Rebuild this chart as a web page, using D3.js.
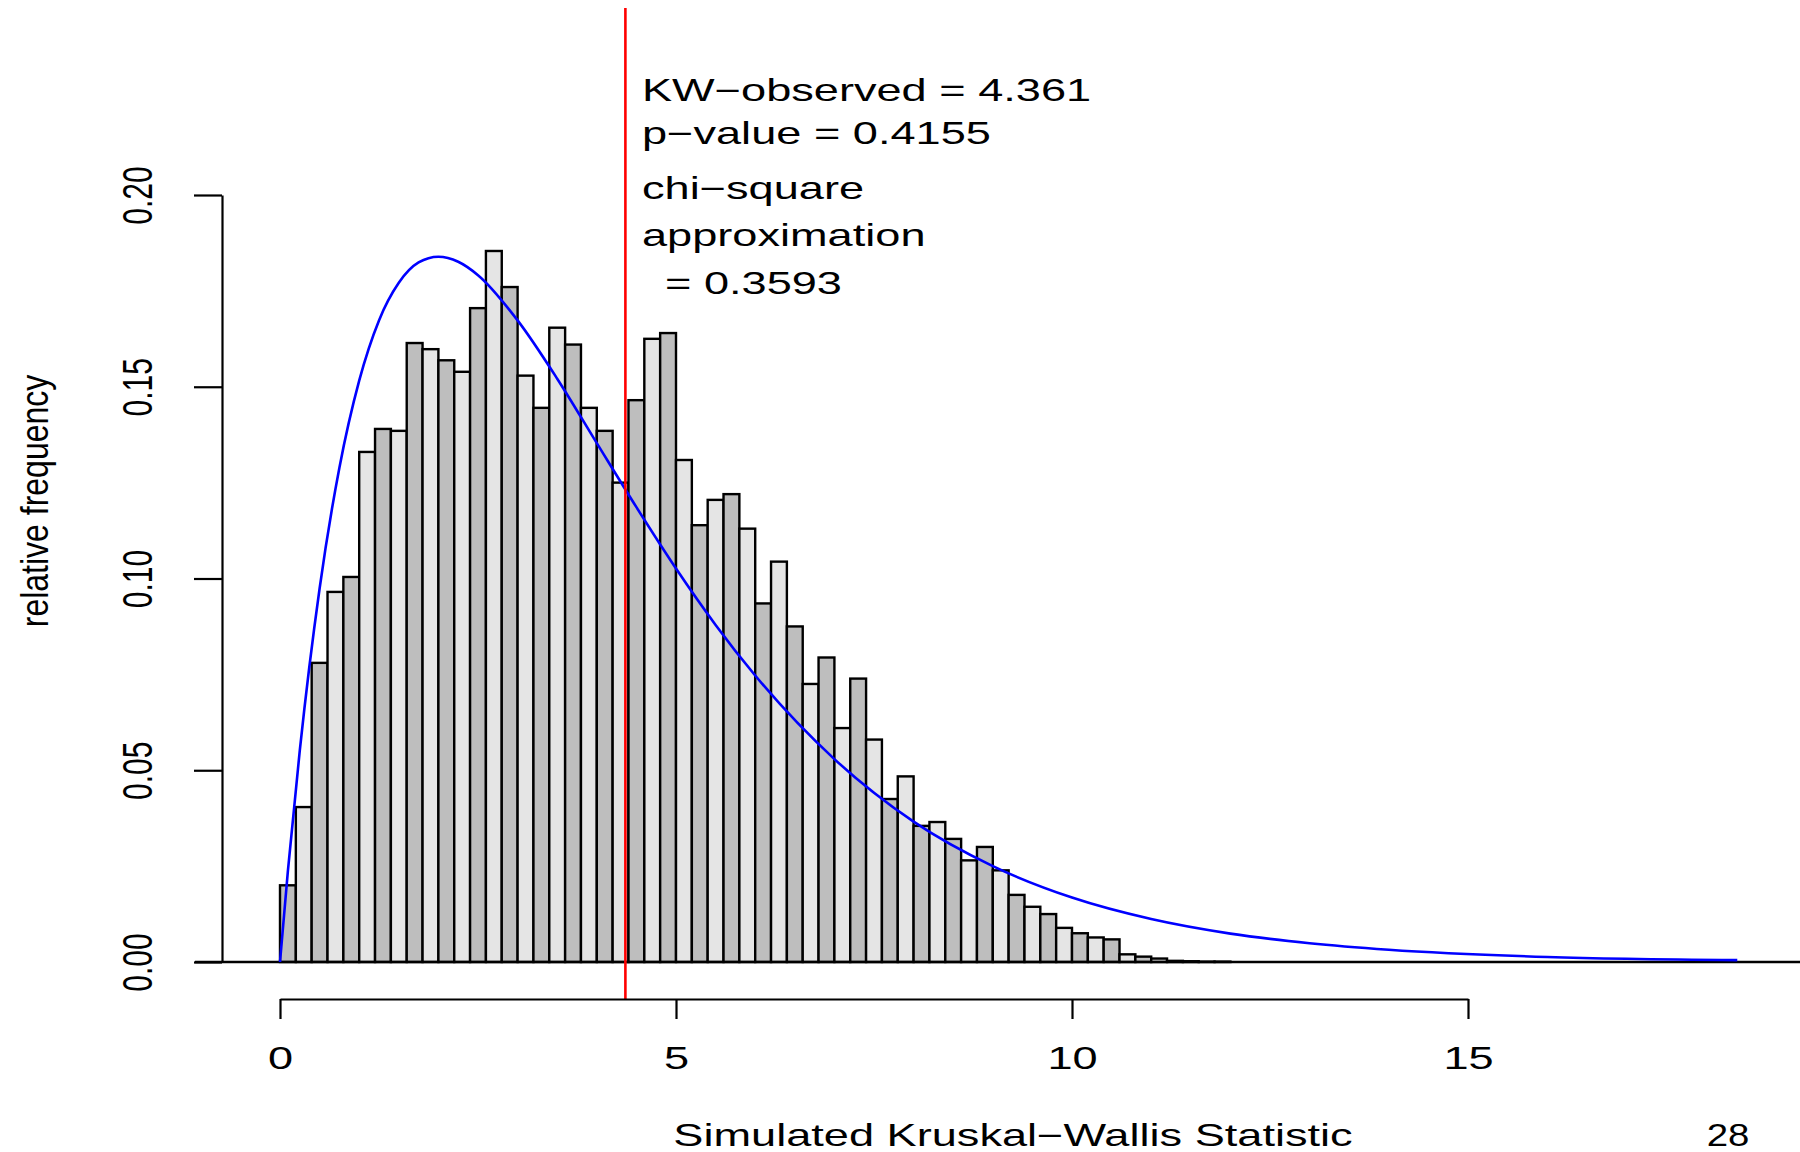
<!DOCTYPE html>
<html>
<head>
<meta charset="utf-8">
<script src="https://cdn.jsdelivr.net/npm/d3@7"></script>
<style>
  body { margin: 0; background: #fff; }
  text { font-family: "Liberation Sans", Arial, Helvetica, sans-serif; fill: #000; }
</style>
</head>
<body>
<div id="main"></div>
<script>

// bin left edges (width 0.2) and relative frequency
const binLeft = [0,0.2,0.4,0.6,0.8,1,1.2,1.4,1.6,1.8,2,2.2,2.4,2.6,2.8,3,3.2,3.4,3.6,3.8,
    4,4.2,4.4,4.6,4.8,5,5.2,5.4,5.6,5.8,6,6.2,6.4,6.6,6.8,7,7.2,7.4,7.6,7.8,
    8,8.2,8.4,8.6,8.8,9,9.2,9.4,9.6,9.8,10,10.2,10.4,10.6,10.8,11,11.2,11.4,11.6,11.8];
const binWidth = 0.2;
const relFreq = [0.0200,0.0404,0.0780,0.0965,0.1004,0.1330,0.1390,0.1385,0.1614,0.1598,
    0.1569,0.1539,0.1705,0.1854,0.1760,0.1529,0.1445,0.1654,0.1610,0.1445,
    0.1385,0.1250,0.1465,0.1625,0.1640,0.1309,0.1139,0.1205,0.1220,0.1130,
    0.0935,0.1044,0.0875,0.0725,0.0794,0.0610,0.0739,0.0580,0.0425,0.0484,
    0.0355,0.0365,0.0321,0.0265,0.0300,0.0239,0.0175,0.0144,0.0125,0.0089,
    0.0075,0.0064,0.0059,0.0020,0.0014,0.0009,0.0003,0.0002,0.0001,0.0001];

// chi-square approximation curve
const curveX = [0,0.1,0.25,0.5,0.75,1,1.25,1.5,1.75,2,2.25,2.5,3,3.5,4,4.5,5,5.5,6,7,8,9,10,11,12,13,14,16,18.4];
const curveY = [0,0.0238,0.0552,0.0974,0.1289,0.1516,0.1673,0.1771,0.1824,0.1839,0.1826,0.1791,
    0.1673,0.1521,0.1353,0.1186,0.1026,0.0879,0.0747,0.0529,0.0366,0.0250,0.0168,0.0112,
    0.0074,0.0049,0.0032,0.0013,0.0005];

const kwObserved = 4.361;
const xTicks = [0,5,10,15];
const yTicks = [0,0.05,0.10,0.15,0.20];
const statLines = ["KW\u2212observed = 4.361", "p\u2212value = 0.4155"];
const chiLines = ["chi\u2212square", "approximation", "= 0.3593"];
const xLabel = "Simulated Kruskal\u2212Wallis Statistic";
const yLabel = "relative frequency";
const pageNo = "28";

const w = 1800;
const h = 1152;
const sx = 1.48;   // text in the picture is stretched horizontally
const fs = 30.5;

const svg = d3.select("#main").append("svg").attr("width", w).attr("height", h);
svg.append("rect").attr("width", w).attr("height", h).attr("fill", "#fff");

const xScale = d3.scaleLinear().domain([0, 15]).range([280, 1468]);
const yScale = d3.scaleLinear().domain([0, 0.2]).range([962, 195]);

// bars
svg.selectAll("rect.bar")
    .data(relFreq)
    .enter()
    .append("rect")
    .attr("class", "bar")
    .attr("x", (d, i) => xScale(binLeft[i]))
    .attr("y", d => yScale(d))
    .attr("width", (d, i) => xScale(binLeft[i] + binWidth) - xScale(binLeft[i]))
    .attr("height", d => yScale(0) - yScale(d))
    .attr("fill", (d, i) => i % 2 === 0 ? "#bebebe" : "#e5e5e5")
    .attr("stroke", "#000")
    .attr("stroke-width", 2.4);

// zero line
svg.append("line")
    .attr("x1", 195).attr("x2", w)
    .attr("y1", yScale(0)).attr("y2", yScale(0))
    .attr("stroke", "#000").attr("stroke-width", 2.4);

// chi-square curve
const line = d3.line()
    .x((d, i) => xScale(curveX[i]))
    .y(d => yScale(d))
    .curve(d3.curveMonotoneX);
svg.append("path")
    .attr("d", line(curveY))
    .attr("fill", "none")
    .attr("stroke", "#0000ff")
    .attr("stroke-width", 2.6);

// observed statistic
svg.append("line")
    .attr("x1", xScale(kwObserved)).attr("x2", xScale(kwObserved))
    .attr("y1", 8).attr("y2", 999)
    .attr("stroke", "#ff0000").attr("stroke-width", 2.6);

// axes
const xAxis = d3.axisBottom(xScale).tickValues(xTicks).tickSize(20).tickSizeOuter(0).tickFormat(d3.format("d"));
const gx = svg.append("g").attr("transform", "translate(0,999)").call(xAxis);
gx.selectAll("path, line").attr("stroke", "#000").attr("stroke-width", 2.2);
gx.selectAll("text")
    .attr("y", 0).attr("dy", 0)
    .attr("font-size", fs)
    .attr("transform", "translate(0,70) scale(" + sx + ",1)");

const yAxis = d3.axisLeft(yScale).tickValues(yTicks).tickSize(28).tickSizeOuter(0).tickFormat(d3.format(".2f"));
const gy = svg.append("g").attr("transform", "translate(222,0)").call(yAxis);
gy.selectAll("path, line").attr("stroke", "#000").attr("stroke-width", 2.2);
gy.selectAll("text")
    .attr("x", 0).attr("dy", 0)
    .attr("text-anchor", "middle")
    .attr("font-size", 30)
    .attr("transform", "translate(-70,0) scale(1.4,1) rotate(-90)");

// axis titles
svg.append("text")
    .attr("transform", "translate(1013,1146) scale(" + sx + ",1)")
    .attr("text-anchor", "middle")
    .attr("font-size", fs)
    .text(xLabel);

svg.append("text")
    .attr("transform", "translate(48,501) scale(1.22,1) rotate(-90)")
    .attr("text-anchor", "middle")
    .attr("font-size", 32)
    .text(yLabel);

svg.append("text")
    .attr("transform", "translate(1728,1146) scale(1.2,1)")
    .attr("text-anchor", "middle")
    .attr("font-size", 32)
    .text(pageNo);

// annotations
const statY = [101, 144];
statLines.forEach((t, i) => {
    svg.append("text")
        .attr("transform", "translate(642," + statY[i] + ") scale(" + sx + ",1)")
        .attr("font-size", fs)
        .text(t);
});
const chiY = [199, 246, 294];
const chiX = [642, 642, 665];
chiLines.forEach((t, i) => {
    svg.append("text")
        .attr("transform", "translate(" + chiX[i] + "," + chiY[i] + ") scale(" + sx + ",1)")
        .attr("font-size", fs)
        .text(t);
});

</script>
</body>
</html>
